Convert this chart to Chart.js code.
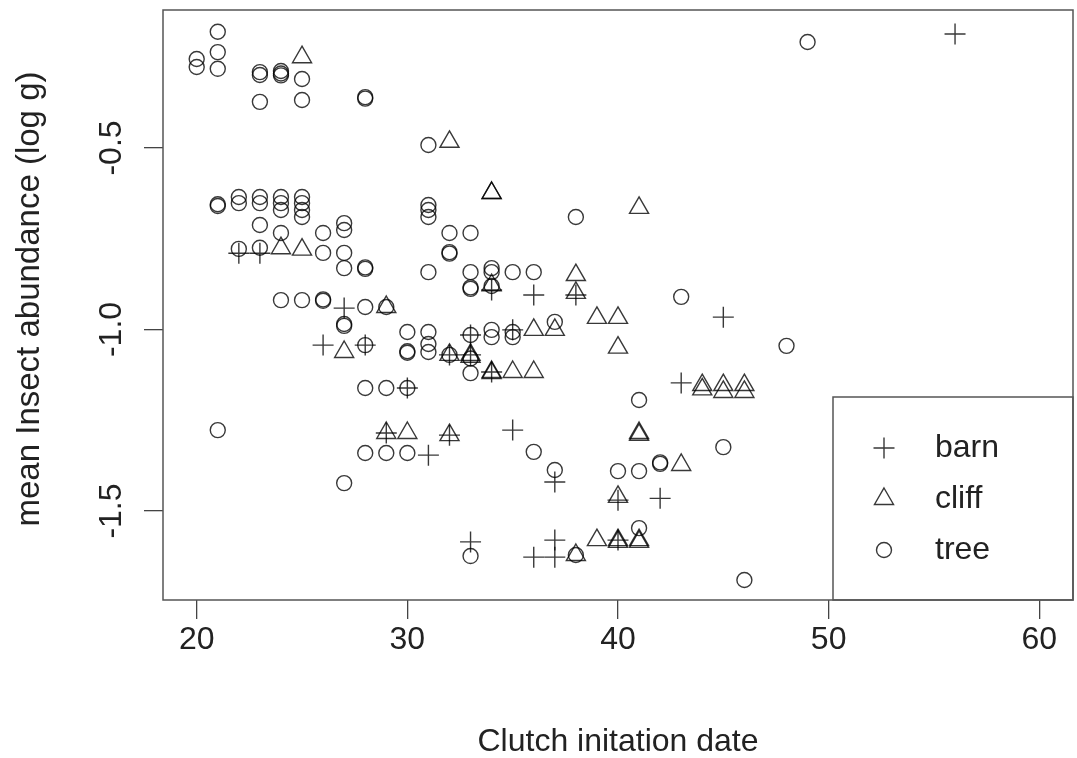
<!DOCTYPE html>
<html>
<head>
<meta charset="utf-8">
<script src="https://cdn.jsdelivr.net/npm/chart.js@4.4.1/dist/chart.umd.min.js"></script>
<style>
  html, body { margin: 0; padding: 0; background: #fff; }
  #wrap { width: 1077px; height: 758px; }
</style>
</head>
<body>
<div id="wrap"><canvas id="insectChart" width="1077" height="758"></canvas></div>
<script>
// clutch initiation date vs mean insect abundance
var barnDate   = [22, 23, 26, 27, 28, 29, 30, 31, 32, 32, 33, 33, 33, 34, 34, 35, 35, 36, 36, 37, 37, 37, 38, 40, 40, 42, 43, 45, 56];
var barnInsect = [-0.79, -0.79, -1.043, -0.941, -1.043, -1.285, -1.161, -1.346, -1.291, -1.07, -1.015, -1.07, -1.585, -0.891, -1.117,
                  -1.001, -1.277, -0.905, -1.627, -1.42, -1.58, -1.627, -0.905, -1.47, -1.58, -1.465, -1.147, -0.966, -0.186];

var cliffDate   = [25, 32, 34, 34, 41, 24, 25, 27, 29, 29, 30, 32, 32, 33, 33, 34, 34, 34, 35, 36, 36, 37, 38, 38, 39, 40, 40, 40,
                   41, 41, 43, 44, 44, 45, 45, 46, 46, 38, 39, 40, 40, 41, 41];
var cliffInsect = [-0.25, -0.483, -0.624, -0.624, -0.665, -0.776, -0.78, -1.062, -0.938, -1.285, -1.285, -1.07, -1.291, -1.07, -1.075,
                   -0.878, -1.117, -1.12, -1.117, -1.117, -1.001, -1.001, -0.85, -0.899, -0.968, -0.968, -1.05, -1.461,
                   -1.285, -1.29, -1.373, -1.153, -1.165, -1.153, -1.172, -1.153, -1.172, -1.621, -1.58, -1.58, -1.585, -1.58, -1.585];

var treeDate   = [20, 20,
                  21, 21, 21, 21, 21, 21,
                  22, 22, 22,
                  23, 23, 23, 23, 23, 23, 23,
                  24, 24, 24, 24, 24, 24, 24, 24,
                  25, 25, 25, 25, 25, 25, 25,
                  26, 26, 26, 26,
                  27, 27, 27, 27, 27, 27, 27,
                  28, 28, 28, 28, 28, 28, 28, 28,
                  29, 29, 29,
                  30, 30, 30, 30, 30,
                  31, 31, 31, 31, 31, 31, 31, 31,
                  32, 32, 32, 32,
                  33, 33, 33, 33, 33, 33, 33, 33,
                  34, 34, 34, 34, 34,
                  35, 35, 35,
                  36, 36,
                  37, 37,
                  38, 38,
                  40,
                  41, 41, 41,
                  42, 42,
                  43, 45, 46, 48, 49];
var treeInsect = [-0.255, -0.277,
                  -0.18, -0.236, -0.282, -0.655, -0.66, -1.277,
                  -0.635, -0.652, -0.778,
                  -0.291, -0.299, -0.373, -0.635, -0.652, -0.712, -0.775,
                  -0.288, -0.295, -0.3, -0.635, -0.652, -0.671, -0.734, -0.919,
                  -0.31, -0.368, -0.635, -0.652, -0.671, -0.69, -0.919,
                  -0.734, -0.789, -0.917, -0.921,
                  -0.707, -0.726, -0.789, -0.831, -0.985, -0.99, -1.423,
                  -0.36, -0.364, -0.829, -0.833, -0.938, -1.043, -1.161, -1.34,
                  -0.938, -1.161, -1.34,
                  -1.007, -1.06, -1.064, -1.161, -1.34,
                  -0.492, -0.657, -0.671, -0.69, -0.842, -1.007, -1.04, -1.062,
                  -0.734, -0.787, -0.791, -1.07,
                  -0.734, -0.842, -0.884, -0.888, -1.015, -1.08, -1.12, -1.624,
                  -0.831, -0.842, -0.88, -1.001, -1.021,
                  -0.842, -1.007, -1.021,
                  -0.842, -1.337,
                  -0.979, -1.387,
                  -0.69, -1.621,
                  -1.39,
                  -1.194, -1.39, -1.547,
                  -1.366, -1.37,
                  -0.91, -1.324, -1.69, -1.045, -0.208];

var xTicks = [20, 30, 40, 50, 60];
var yTicks = [-1.5, -1.0, -0.5];
var yTickLabels = ['-1.5', '-1.0', '-0.5'];

var FONT = '"Liberation Sans", Arial, Helvetica, sans-serif';
var INK = 'rgba(0,0,0,0.78)';

function toPoints(xs, ys) {
    return xs.map(function(x, i) { return {x: x, y: ys[i]}; });
}

function drawSymbol(ctx, style, x, y) {
    ctx.beginPath();
    if (style === 'cross') {
        ctx.moveTo(x - 10.5, y); ctx.lineTo(x + 10.5, y);
        ctx.moveTo(x, y - 10.5); ctx.lineTo(x, y + 10.5);
    } else if (style === 'triangle') {
        var r = 11;
        ctx.moveTo(x, y - r);
        ctx.lineTo(x + r * Math.sqrt(3) / 2, y + r / 2);
        ctx.lineTo(x - r * Math.sqrt(3) / 2, y + r / 2);
        ctx.closePath();
    } else {
        ctx.arc(x, y, 7.5, 0, Math.PI * 2);
    }
    ctx.stroke();
}

// R style frame, rotated y labels, axis titles and boxed legend
var rFrame = {
    id: 'rFrame',
    afterDraw: function(chart) {
        var ctx = chart.ctx;
        var a = chart.chartArea;
        var ys = chart.scales.y;
        ctx.save();
        ctx.strokeStyle = '#555';
        ctx.lineWidth = 1.5;
        ctx.strokeRect(a.left, a.top, a.right - a.left, a.bottom - a.top);

        ctx.fillStyle = '#222';
        ctx.font = '32px ' + FONT;
        ctx.textAlign = 'center';
        ctx.textBaseline = 'middle';
        yTicks.forEach(function(v, i) {
            ctx.save();
            ctx.translate(112, ys.getPixelForValue(v));
            ctx.rotate(-Math.PI / 2);
            ctx.fillText(yTickLabels[i], 0, 0);
            ctx.restore();
        });

        ctx.fillText('Clutch initation date', (a.left + a.right) / 2, 742);
        ctx.save();
        ctx.font = '33px ' + FONT;
        ctx.translate(30, 299);
        ctx.rotate(-Math.PI / 2);
        ctx.fillText('mean Insect abundance (log g)', 0, 0);
        ctx.restore();

        // legend in the bottom right corner
        var w = 240, h = 203;
        var lx = a.right - w, ly = a.bottom - h;
        ctx.strokeStyle = '#555';
        ctx.lineWidth = 1.5;
        ctx.strokeRect(lx, ly, w, h);
        ctx.textAlign = 'left';
        ctx.strokeStyle = INK;
        ctx.lineWidth = 1.4;
        chart.data.datasets.forEach(function(ds, i) {
            var cy = ly + 51 + i * 51;
            drawSymbol(ctx, ds.pointStyle, lx + 51, cy);
            ctx.fillText(ds.label, lx + 102, cy);
        });
        ctx.restore();
    }
};

var markDefaults = {
    backgroundColor: 'rgba(0,0,0,0)',
    borderColor: INK,
    borderWidth: 1.4,
    pointBorderWidth: 1.4
};

new Chart(document.getElementById('insectChart'), {
    type: 'scatter',
    data: {
        datasets: [
            Object.assign({label: 'barn', data: toPoints(barnDate, barnInsect), pointStyle: 'cross', pointRadius: 10.5}, markDefaults),
            Object.assign({label: 'cliff', data: toPoints(cliffDate, cliffInsect), pointStyle: 'triangle', pointRadius: 11}, markDefaults),
            Object.assign({label: 'tree', data: toPoints(treeDate, treeInsect), pointStyle: 'circle', pointRadius: 7.5}, markDefaults)
        ]
    },
    options: {
        responsive: false,
        animation: false,
        events: [],
        layout: { autoPadding: false, padding: { top: 10, right: 4, left: 0, bottom: 0 } },
        plugins: {
            legend: { display: false },
            tooltip: { enabled: false }
        },
        scales: {
            x: {
                type: 'linear',
                min: 18.4,
                max: 61.6,
                afterBuildTicks: function(scale) {
                    scale.ticks = xTicks.map(function(v) { return {value: v}; });
                },
                afterFit: function(scale) {
                    scale.height = 158;
                    scale.paddingLeft = 0;
                    scale.paddingRight = 0;
                },
                border: { display: false },
                grid: { drawOnChartArea: false, drawTicks: true, tickLength: 19, color: '#444', lineWidth: 1.3 },
                ticks: { color: '#222', font: { family: FONT, size: 32 }, padding: 2, maxRotation: 0 }
            },
            y: {
                type: 'linear',
                min: -1.745,
                max: -0.12,
                afterBuildTicks: function(scale) {
                    scale.ticks = yTicks.map(function(v) { return {value: v}; });
                },
                afterFit: function(scale) {
                    scale.width = 163;
                    scale.paddingTop = 0;
                    scale.paddingBottom = 0;
                },
                border: { display: false },
                grid: { drawOnChartArea: false, drawTicks: true, tickLength: 19, color: '#444', lineWidth: 1.3 },
                ticks: { display: false }
            }
        }
    },
    plugins: [rFrame]
});
</script>
</body>
</html>
